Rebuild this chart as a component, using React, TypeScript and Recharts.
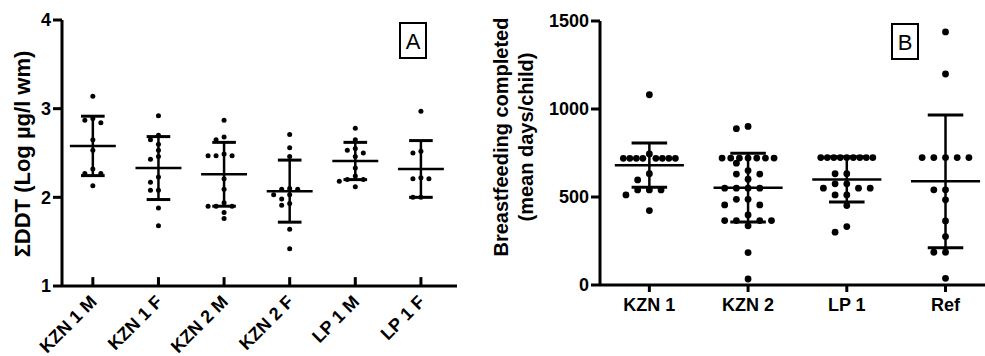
import React from 'react';
import { ComposedChart, Scatter, XAxis, YAxis, ReferenceLine } from 'recharts';

const FONT = '"Liberation Sans", Arial, sans-serif';

// Panel A: sum DDT (log µg/l wm) by site and sex
const groupsA = ['KZN 1 M', 'KZN 1 F', 'KZN 2 M', 'KZN 2 F', 'LP 1 M', 'LP 1 F'];
const kzn1M = [3.14, 2.89, 2.87, 2.84, 2.65, 2.53, 2.32, 2.27, 2.27, 2.13];
const kzn1F = [2.92, 2.7, 2.65, 2.6, 2.53, 2.46, 2.43, 2.23, 2.17, 2.08, 2.08, 1.88, 1.68];
const kzn2M = [2.87, 2.68, 2.65, 2.49, 2.47, 2.47, 2.47, 2.21, 2.09, 1.94, 1.9, 1.9, 1.9, 1.83, 1.76];
const kzn2F = [2.71, 2.56, 2.46, 2.1, 2.09, 2.09, 2.03, 2.03, 1.98, 1.93, 1.91, 1.64, 1.42];
const lp1M = [2.78, 2.65, 2.55, 2.53, 2.5, 2.46, 2.33, 2.24, 2.2, 2.2, 2.18, 2.12];
const lp1F = [2.97, 2.52, 2.5, 2.22, 2.21, 2.21, 2.0, 2.0];
const meanA = [2.58, 2.33, 2.26, 2.07, 2.41, 2.32];
const sdA = [0.335, 0.355, 0.36, 0.35, 0.21, 0.32];
const ticksA = [1, 2, 3, 4];

// Panel B: breastfeeding completed (mean days/child)
const groupsB = ['KZN 1', 'KZN 2', 'LP 1', 'Ref'];
const kzn1 = [1081, 745, 720, 720, 720, 720, 720, 720, 720, 720, 632, 597, 540, 540, 540, 512, 423];
const kzn2 = [901, 888, 721, 721, 721, 721, 721, 721, 721, 692, 650, 630, 630, 601, 550, 550, 550, 550,
  487, 487, 455, 455, 398, 366, 366, 366, 366, 336, 184, 34];
const lp1 = [724, 724, 724, 724, 724, 724, 724, 724, 724, 632, 632, 575, 575, 550, 550, 550, 512, 512, 451, 332, 300];
const ref = [1438, 1199, 724, 724, 724, 724, 724, 541, 541, 484, 364, 275, 186, 186, 38];
const meanB = [681, 553, 600, 589];
const sdB = [126, 195, 128, 377];
const ticksB = [0, 500, 1000, 1500];

type SwarmOpt = { pxY: number; pxX: number; step: number; maxHalf: number; minDist: number; tol: number };

// simple beeswarm: spread points sideways so they don't sit on top of each other
function swarm(values: number[], cat: number, o: SwarmOpt) {
  const sorted = values.slice().sort((a, b) => b - a);
  const placed: { dx: number; py: number }[] = [];
  return sorted.map((v) => {
    const py = v * o.pxY;
    const same = sorted.filter((w) => Math.abs(w * o.pxY - py) < o.tol).length;
    const step = same > 1 ? Math.min(o.step, (2 * o.maxHalf) / (same - 1)) : o.step;
    const md = Math.min(o.minDist, step * 0.95);
    let best = 0;
    let bestD = -1;
    for (let k = 0; k < 40; k++) {
      const cand = k === 0 ? 0 : (k % 2 === 1 ? -1 : 1) * Math.ceil(k / 2) * step;
      if (Math.abs(cand) > o.maxHalf + 0.5) break;
      const d = placed.length ? Math.min(...placed.map((p) => Math.hypot(p.dx - cand, p.py - py))) : 999;
      if (d >= md) { best = cand; break; }
      if (d > bestD) { bestD = d; best = cand; }
    }
    placed.push({ dx: best, py });
    return { x: cat + best / o.pxX, y: v };
  });
}

const optA: SwarmOpt = { pxY: 88.67, pxX: 65.6, step: 8, maxHalf: 20, minDist: 5.5, tol: 3.5 };
const optB: SwarmOpt = { pxY: 0.1757, pxX: 98.7, step: 11.7, maxHalf: 26, minDist: 7.5, tol: 5 };

const dotsA = [kzn1M, kzn1F, kzn2M, kzn2F, lp1M, lp1F].flatMap((vals, i) => swarm(vals, i, optA));
const dotsB = [kzn1, kzn2, lp1, ref].flatMap((vals, i) => swarm(vals, i, optB));

const CAP = 0.18;
const HALF = 0.35;

function statLines(means: number[], sds: number[], key: string) {
  const out: React.ReactElement[] = [];
  means.forEach((m, i) => {
    const s = sds[i];
    out.push(<ReferenceLine key={key + 'm' + i} segment={[{ x: i - HALF, y: m }, { x: i + HALF, y: m }]} stroke="#000" strokeWidth={2.5} ifOverflow="visible" />);
    out.push(<ReferenceLine key={key + 'v' + i} segment={[{ x: i, y: m - s }, { x: i, y: m + s }]} stroke="#000" strokeWidth={2.5} ifOverflow="visible" />);
    out.push(<ReferenceLine key={key + 't' + i} segment={[{ x: i - CAP, y: m + s }, { x: i + CAP, y: m + s }]} stroke="#000" strokeWidth={3} ifOverflow="visible" />);
    out.push(<ReferenceLine key={key + 'b' + i} segment={[{ x: i - CAP, y: m - s }, { x: i + CAP, y: m - s }]} stroke="#000" strokeWidth={3} ifOverflow="visible" />);
  });
  return out;
}

// panel A has its category ticks pointing into the plot
function innerTicks(n: number, y0: number, len: number) {
  return Array.from({ length: n }, (_, i) => (
    <ReferenceLine key={'it' + i} segment={[{ x: i, y: y0 }, { x: i, y: y0 + len }]} stroke="#000" strokeWidth={3} ifOverflow="visible" />
  ));
}

const tickStyle = { fill: '#000', fontSize: 18, fontWeight: 'bold' as const, fontFamily: FONT };

function SlantTick(props: any) {
  const ax = Number(props.x) + 5;
  const ay = Number(props.y) + 17;
  return (
    <g transform={`translate(${ax},${ay})`}>
      <g transform="rotate(-45)">
        <text x={0} y={0} textAnchor="end" fill="#000" fontSize={18} fontWeight="bold" fontFamily={FONT}>
          {groupsA[props.payload.value]}
        </text>
      </g>
    </g>
  );
}

const dotA = (p: any) => <circle cx={p.cx} cy={p.cy} r={2.5} fill="#000" />;
const dotB = (p: any) => <circle cx={p.cx} cy={p.cy} r={3.4} fill="#000" />;

export default function App() {
  return (
    <div style={{ position: 'absolute', left: 0, top: 0, width: 985, height: 356, background: '#fff', fontFamily: FONT }}>
      <div style={{ position: 'absolute', left: 0, top: 0 }}>
        <ComposedChart width={470} height={356} margin={{ top: 20, right: 13, bottom: 0, left: 0 }}>
          <XAxis type="number" dataKey="x" domain={[-0.47, 5.55]} ticks={[0, 1, 2, 3, 4, 5]} allowDataOverflow
            height={70} stroke="#000" strokeWidth={3} tickLine={false} tickSize={0} tickMargin={0} tick={SlantTick} interval={0} />
          <YAxis type="number" dataKey="y" domain={[1, 4]} ticks={ticksA} allowDataOverflow width={62}
            stroke="#000" strokeWidth={3} tickSize={9} tickMargin={2} tick={tickStyle} interval={0} />
          {innerTicks(6, 1, 0.1)}
          {statLines(meanA, sdA, 'a')}
          <Scatter data={dotsA} shape={dotA} isAnimationActive={false} />
        </ComposedChart>
      </div>
      <div style={{ position: 'absolute', left: 480, top: 0 }}>
        <ComposedChart width={505} height={356} margin={{ top: 21, right: 0, bottom: 0, left: 0 }}>
          <XAxis type="number" dataKey="x" domain={[-0.5, 3.4]} ticks={[0, 1, 2, 3]} allowDataOverflow
            height={71} stroke="#000" strokeWidth={3} tickSize={7} tickMargin={6} tick={tickStyle} interval={0}
            tickFormatter={(v: number) => groupsB[v]} />
          <YAxis type="number" dataKey="y" domain={[0, 1500]} ticks={ticksB} allowDataOverflow width={120}
            stroke="#000" strokeWidth={3} tickSize={9} tickMargin={2} tick={tickStyle} interval={0} />
          {statLines(meanB, sdB, 'b')}
          <Scatter data={dotsB} shape={dotB} isAnimationActive={false} />
        </ComposedChart>
      </div>
      <svg width={985} height={356} style={{ position: 'absolute', left: 0, top: 0, pointerEvents: 'none' }}>
        <g style={{ fontFamily: FONT, fontWeight: 'bold' }}>
          <text x={30} y={154} fontSize={22} transform="rotate(-90, 30, 154)" textAnchor="middle">ΣDDT (Log µg/l wm)</text>
          <text x={508} y={137} fontSize={20} transform="rotate(-90, 508, 137)" textAnchor="middle">Breastfeeding completed</text>
          <text x={533} y={137} fontSize={20} transform="rotate(-90, 533, 137)" textAnchor="middle">(mean days/child)</text>
        </g>
        <rect x={400} y={23} width={26} height={35} fill="none" stroke="#000" strokeWidth={2} />
        <text x={413} y={49} textAnchor="middle" style={{ fontFamily: FONT, fontSize: 22 }}>A</text>
        <rect x={892} y={24} width={26} height={35} fill="none" stroke="#000" strokeWidth={2} />
        <text x={905} y={50} textAnchor="middle" style={{ fontFamily: FONT, fontSize: 22 }}>B</text>
      </svg>
    </div>
  );
}
